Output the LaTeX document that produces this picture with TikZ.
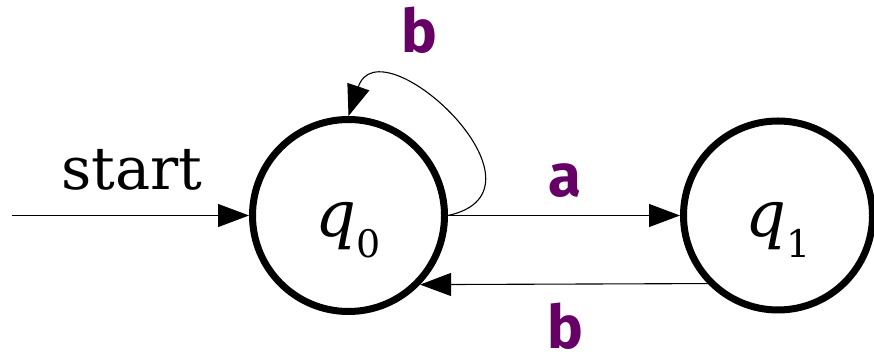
\documentclass[tikz,border=0pt]{standalone}
\usepackage{fontspec}
\setmainfont{DejaVu Serif}
\newfontfamily\lblfont{Fira Sans}
\usetikzlibrary{arrows.meta}
\definecolor{lblpurple}{HTML}{660066}
\begin{document}
\begin{tikzpicture}[x=1pt,y=1pt,
  state/.style={circle,draw,line width=7pt,inner sep=0pt,
    text height=43pt,text depth=0pt,
    font=\fontsize{64}{64}\selectfont\itshape},
  edge/.style={line width=1.1pt,-{Triangle[length=31pt,width=23pt]}},
  lbl/.style={text=lblpurple,anchor=base,inner sep=0pt,font=\lblfont\bfseries\fontsize{60}{60}\selectfont}]
\useasboundingbox (0,0) rectangle (874,355);
\node[state,minimum size=192pt] (q0) at (348.5,139.5) {q\raisebox{-21pt}{\fontsize{38}{38}\selectfont\upshape 0}};
\node[state,minimum size=189pt] (q1) at (778,139.5) {q\raisebox{-21pt}{\fontsize{38}{38}\selectfont\upshape 1}};
\coordinate (s) at (12,139.5);
\draw[edge] (s) -- (q0.west);
\node[anchor=base,font=\fontsize{59}{59}\selectfont] (startlbl) at (132,165) {start};
\draw[edge] (q0.east) -- (q1.west);
\node[lbl] (la) at (565,158) {a};
\draw[edge] (q1.224) -- (q0.-44);
\node[lbl] (lb) at (565,6) {b};
\draw[edge] (q0.east) .. controls +(115,25) and +(32,95) .. (q0.north);
\node[lbl] (lloop) at (419,302) {b};
\end{tikzpicture}
\end{document}
